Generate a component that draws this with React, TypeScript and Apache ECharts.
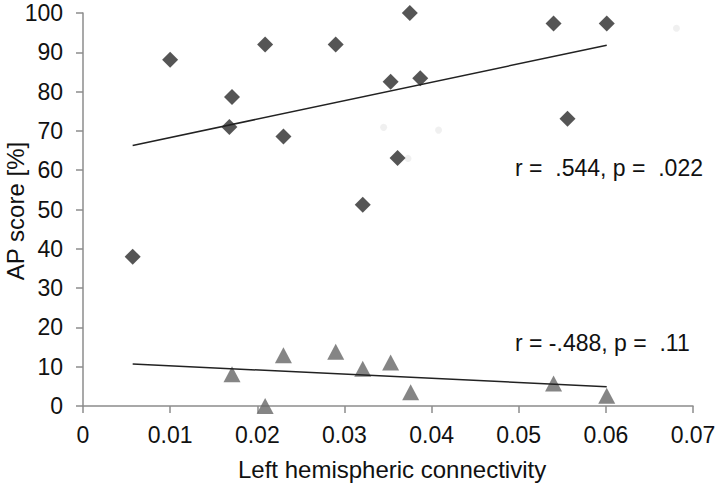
import React, { useEffect, useRef } from "react";
import * as echarts from "echarts";

const groupAx: number[] = [0.0057, 0.0100, 0.0171, 0.0168, 0.0209, 0.0290, 0.0230, 0.0375, 0.0353, 0.0387, 0.0361, 0.0321, 0.0540, 0.0601, 0.0556];
const groupAy: number[] = [38, 88.1, 78.6, 71.0, 92, 92, 68.6, 100, 82.5, 83.4, 63.1, 51.2, 97.3, 97.3, 73.1];
const groupBx: number[] = [0.0171, 0.0209, 0.0230, 0.0290, 0.0321, 0.0353, 0.0376, 0.0540, 0.0601];
const groupBy: number[] = [8.1, 0, 12.9, 13.8, 9.5, 11.1, 3.5, 5.7, 2.6];
const ghostX: number[] = [0.0345, 0.0408, 0.0373, 0.0681];
const ghostY: number[] = [70.9, 70.2, 63, 96.1];
const trendAx: number[] = [0.0057, 0.0601];
const trendAy: number[] = [66.3, 91.8];
const trendBx: number[] = [0.0057, 0.0601];
const trendBy: number[] = [10.7, 4.9];
const xTicks = { min: 0, max: 0.07, interval: 0.01 };
const yTicks = { min: 0, max: 100, interval: 10 };
const xTitle = "Left hemispheric connectivity";
const yTitle = "AP score [%]";
const annA = "r =  .544, p =  .022";
const annB = "r = -.488, p =  .11";

const zip = (xs: number[], ys: number[]) => xs.map((x, i) => [x, ys[i]]);

export default function App() {
  const ref = useRef<HTMLDivElement>(null);
  useEffect(() => {
    if (!ref.current) return;
    const chart = echarts.init(ref.current, undefined, { renderer: "svg" });
    const font = "Liberation Sans, Arial, sans-serif";
    chart.setOption({
      animation: false,
      backgroundColor: "#fff",
      grid: { left: 83, right: 27, top: 13, bottom: 80, containLabel: false },
      xAxis: {
        type: "value",
        min: xTicks.min,
        max: xTicks.max,
        interval: xTicks.interval,
        splitLine: { show: false },
        axisLine: { show: true, lineStyle: { color: "#8c8c8c", width: 1.5 } },
        axisTick: { show: true, inside: false, length: 7, lineStyle: { color: "#8c8c8c", width: 1.5 } },
        axisLabel: {
          color: "#111",
          fontFamily: font,
          fontSize: 23,
          margin: 17,
          formatter: (v: number) => (v === 0 ? "0" : v.toFixed(2)),
        },
      },
      yAxis: {
        type: "value",
        min: yTicks.min,
        max: yTicks.max,
        interval: yTicks.interval,
        splitLine: { show: false },
        axisLine: { show: true, lineStyle: { color: "#8c8c8c", width: 1.5 } },
        axisTick: { show: true, inside: false, length: 7, lineStyle: { color: "#8c8c8c", width: 1.5 } },
        axisLabel: { color: "#111", fontFamily: font, fontSize: 23, margin: 20 },
      },
      series: [
        {
          type: "scatter",
          data: zip(ghostX, ghostY),
          symbol: "circle",
          symbolSize: 7,
          itemStyle: { color: "#ececec" },
          silent: true,
        },
        {
          type: "line",
          data: zip(trendAx, trendAy),
          showSymbol: false,
          symbol: "none",
          lineStyle: { color: "#222", width: 1.5 },
        },
        {
          type: "line",
          data: zip(trendBx, trendBy),
          showSymbol: false,
          symbol: "none",
          lineStyle: { color: "#222", width: 1.5 },
        },
        {
          type: "scatter",
          data: zip(groupAx, groupAy),
          symbol: "diamond",
          symbolSize: 16,
          itemStyle: { color: "#2b2b2b" },
          clip: false,
        },
        {
          type: "scatter",
          data: zip(groupBx, groupBy),
          symbol: "triangle",
          symbolSize: [17, 16],
          itemStyle: { color: "#666666" },
          clip: false,
        },
      ],
      graphic: [
        {
          type: "text",
          x: 238,
          y: 469,
          style: { text: xTitle, fontFamily: font, fontSize: 24, fill: "#111", verticalAlign: "middle" },
        },
        {
          type: "text",
          x: 15,
          y: 211,
          rotation: Math.PI / 2,
          style: {
            text: yTitle,
            fontFamily: font,
            fontSize: 24,
            fill: "#111",
            align: "center",
            verticalAlign: "middle",
          },
        },
        {
          type: "text",
          x: 515,
          y: 168,
          style: { text: annA, fontFamily: font, fontSize: 23, fill: "#111", verticalAlign: "middle" },
        },
        {
          type: "text",
          x: 515,
          y: 343,
          style: { text: annB, fontFamily: font, fontSize: 23, fill: "#111", verticalAlign: "middle" },
        },
      ],
    });
    return () => chart.dispose();
  }, []);
  return <div ref={ref} style={{ width: 720, height: 486, position: "absolute", left: 0, top: 0 }} />;
}
